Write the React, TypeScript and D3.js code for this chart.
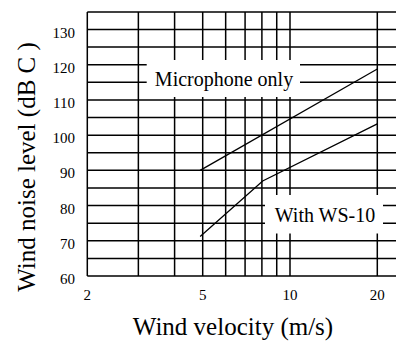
import React from "react";
import * as d3 from "d3";

const W = 396;
const H = 343;

// Data
const xTicks = [2, 5, 10, 20];
const xGrid = [2, 3, 4, 5, 6, 7, 8, 9, 10, 20, 30];
const yTicks = [60, 70, 80, 90, 100, 110, 120, 130];
const yGrid = [60, 65, 70, 75, 80, 85, 90, 95, 100, 105, 110, 115, 120, 125, 130, 135];
const micVelocity = [4.9, 20];
const micLevel = [90, 118.8];
const wsVelocity = [4.9, 8.05, 20];
const wsLevel = [71.2, 87, 103.2];
const seriesLabels = ["Microphone only", "With WS-10"];

const FONT = '"Liberation Serif", "Times New Roman", Times, serif';
const ts = { fontFamily: FONT };

export default function App() {
  const left = 87.3;
  const top = 11.9;
  const bottom = 276;
  const x = d3.scaleLog().domain([2, 20]).range([left, 377.3]);
  const y = d3.scaleLinear().domain([60, 135]).range([bottom, top]);
  const xMax = 40;
  const line = d3
    .line<[number, number]>()
    .x((d) => x(d[0]))
    .y((d) => y(d[1]));
  const mic = micVelocity.map((v, i) => [v, micLevel[i]] as [number, number]);
  const ws = wsVelocity.map((v, i) => [v, wsLevel[i]] as [number, number]);

  return (
    <svg
      width={W}
      height={H}
      style={{ position: "absolute", left: 0, top: 0, background: "#fff" }}
    >
      <rect x={0} y={0} width={W} height={H} fill="#fff" />
      {yGrid.map((v) => (
        <line key={"h" + v} x1={left} x2={x(xMax)} y1={y(v)} y2={y(v)} stroke="#000" strokeWidth={1.5} />
      ))}
      {xGrid.map((v) => (
        <line key={"v" + v} x1={x(v)} x2={x(v)} y1={y(135)} y2={y(60)} stroke="#000" strokeWidth={1.5} />
      ))}
      <path d={line(mic) || ""} fill="none" stroke="#000" strokeWidth={1.3} />
      <path d={line(ws) || ""} fill="none" stroke="#000" strokeWidth={1.3} />
      <rect x={146.7} y={60} width={153.3} height={37} fill="#fff" />
      <text x={224} y={86} fontSize={20} textAnchor="middle" fill="#000" style={ts}>
        {seriesLabels[0]}
      </text>
      <rect x={265} y={195} width={118} height={38.5} fill="#fff" />
      <text x={325} y={221.5} fontSize={20} textAnchor="middle" fill="#000" style={ts}>
        {seriesLabels[1]}
      </text>
      {yTicks.map((v) => (
        <text key={"yt" + v} x={75} y={y(v) + 8} fontSize={15} textAnchor="end" fill="#000" style={ts}>
          {v}
        </text>
      ))}
      {xTicks.map((v) => (
        <text key={"xt" + v} x={x(v)} y={300} fontSize={15} textAnchor="middle" fill="#000" style={ts}>
          {v}
        </text>
      ))}
      <text x={233} y={335} fontSize={25} textAnchor="middle" fill="#000" style={ts}>
        Wind velocity (m/s)
      </text>
      <text
        transform={`translate(35,167) rotate(-90)`}
        fontSize={25}
        textAnchor="middle"
        fill="#000"
        style={ts}
      >
        Wind noise level (dB C )
      </text>
    </svg>
  );
}
